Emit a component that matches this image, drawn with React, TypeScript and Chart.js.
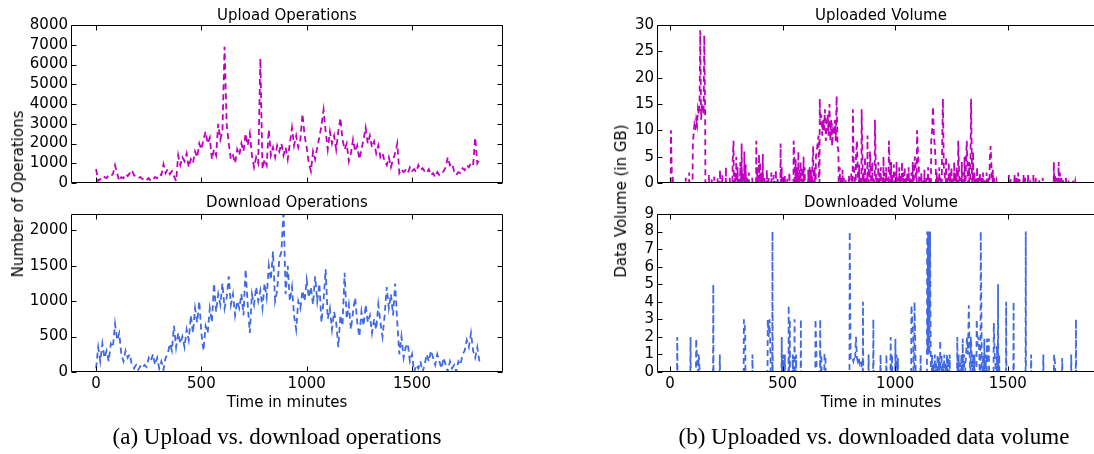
import React, { useEffect, useRef } from "react";
import { Chart, registerables } from "chart.js";

Chart.register(...registerables);

const PAGE_W = 1094;
const PAGE_H = 454;
const MAGENTA = "#bf00bf";
const BLUE = "#4169e1";
const FONT = "'DejaVu Sans', 'Bitstream Vera Sans', sans-serif";

// time axis (minutes, one sample every 10 minutes)
const minutes = Array.from({ length: 183 }, (_, i) => i * 10);
const xTicks = [0, 500, 1000, 1500];
const uploadOpsTicks = [0, 1000, 2000, 3000, 4000, 5000, 6000, 7000, 8000];
const downloadOpsTicks = [0, 500, 1000, 1500, 2000];
const upVolTicks = [0, 5, 10, 15, 20, 25, 30];
const downVolTicks = [0, 1, 2, 3, 4, 5, 6, 7, 8, 9];

// Upload operations per sample
const uploadOps = [
  700, 100, 200, 150, 300, 250, 400, 350, 450, 900,
  500, 100, 300, 250, 450, 350, 500, 650, 400, 300,
  250, 300, 200, 250, 150, 250, 100, 150, 300, 250,
  450, 400, 950, 500, 700, 450, 600, 350, 100, 1400,
  900, 1300, 1100, 1500, 800, 1200, 1000, 1600, 1300, 2000,
  1700, 2200, 2600, 2000, 2300, 1200, 1700, 1400, 3000, 2200,
  2600, 6900, 3000, 2000, 1200, 1400, 1000, 1700, 1400, 2000,
  1600, 2500, 1900, 2500, 1400, 800, 1300, 1000, 6300, 700,
  1200, 900, 2700, 1400, 1800, 1300, 1900, 1600, 2000, 1400,
  1800, 1200, 2000, 2800, 1900, 2400, 1800, 2200, 3500, 2400,
  1800, 1000, 600, 1600, 1200, 1800, 2300, 2900, 3700, 2600,
  1700, 2600, 2000, 2400, 1700, 2600, 3300, 2200, 1700, 2000,
  1100, 1500, 2200, 1600, 1900, 1200, 1700, 2200, 2800, 2000,
  2400, 1800, 2100, 1500, 1900, 1300, 1500, 1100, 900, 1300,
  800, 1200, 1500, 2000, 500, 700, 550, 650, 500, 800,
  600, 700, 550, 900, 650, 750, 600, 500, 700, 400,
  500, 300, 550, 400, 450, 600, 800, 1300, 900, 1000,
  600, 400, 550, 500, 750, 650, 900, 800, 1000, 900,
  2300, 1000, 1200,
];

// Download operations per sample
const downloadOps = [
  50, 350, 150, 400, 200, 300, 150, 400, 350, 680,
  450, 550, 250, 150, 300, 200, 250, 100, 50, 100,
  30, 80, 50, 100, 70, 200, 150, 250, 100, 200,
  50, 150, 30, 200, 250, 400, 300, 650, 350, 550,
  400, 500, 350, 600, 450, 800, 550, 900, 700, 1000,
  550, 300, 650, 550, 900, 700, 1250, 850, 1100, 950,
  1250, 900, 1050, 1350, 950, 1100, 800, 1000, 900, 1100,
  800, 1450, 950, 550, 1100, 950, 1200, 1000, 1150, 900,
  1250, 1050, 1500, 1300, 1700, 1000, 1150, 1600, 1700, 2300,
  1100, 1500, 1000, 1200, 800, 600, 1000, 900, 1150, 1000,
  1300, 1050, 1200, 950, 1350, 1000, 1250, 700, 1000, 1450,
  750, 900, 600, 850, 700, 350, 800, 650, 1400, 750,
  950, 600, 850, 1050, 700, 500, 850, 650, 950, 700,
  800, 550, 750, 600, 950, 700, 500, 800, 1200, 900,
  1100, 800, 1250, 700, 250, 500, 200, 350, 400, 150,
  250, 0, 100, 50, 150, 0, 100, 250, 150, 300,
  200, 100, 250, 150, 50, 200, 100, 0, 150, 50,
  100, 0, 150, 100, 250, 300, 450, 350, 550, 300,
  200, 350, 150,
];

// Uploaded volume (GB): minutes with non-zero volume and their values
const upVolMinutes = [
  4, 8, 12, 70, 85,
  101, 104, 108, 112, 116, 120, 124, 128, 131, 134, 138, 142, 146, 149, 152, 156,
  173, 185, 196, 212, 222, 232, 248, 265,
  278, 282, 288, 294, 300, 306, 312, 318, 324, 330, 336, 342, 350, 365,
  383, 388, 395, 400, 405, 412, 420, 430, 438, 450, 460, 470, 478,
  491, 496, 502, 510, 520, 530,
  549, 553, 558, 565, 570, 575, 580, 587, 593, 598,
  614, 620, 626, 632, 636, 642, 648, 652, 656, 660,
  665, 668, 672, 676, 680, 684, 688, 692, 696, 700,
  704, 708, 712, 716, 720, 724, 728, 732, 736, 740,
  744, 748, 754, 759, 766, 772, 780,
  795, 805, 812, 816, 820, 826, 830, 834, 840, 846,
  851, 855, 860, 866, 872, 877, 882, 888, 892, 898,
  904, 910, 914, 920, 925, 930, 936, 942, 948, 954,
  960, 966, 972, 976, 982, 988, 994,
  1000, 1006, 1012, 1018, 1024, 1030, 1036, 1042, 1048, 1054,
  1060, 1066, 1072, 1078, 1084, 1088, 1092, 1097, 1101, 1105,
  1110, 1116, 1122, 1130, 1138, 1146, 1152,
  1160, 1164, 1168, 1172, 1176, 1180, 1185, 1190, 1196, 1202,
  1208, 1212, 1216, 1220, 1226, 1232, 1238, 1244, 1250, 1256,
  1262, 1268, 1274, 1280, 1284, 1290, 1296, 1302, 1308, 1314,
  1318, 1322, 1328, 1334, 1337, 1341, 1346, 1352, 1358, 1364,
  1370, 1376, 1382, 1390, 1398, 1406, 1414, 1420, 1424, 1428,
  1434, 1440, 1450,
  1505, 1512, 1520, 1530, 1538, 1546, 1552, 1560, 1570, 1578, 1590, 1600, 1614, 1624, 1640, 1655,
  1705, 1710, 1718, 1726, 1732, 1738, 1746, 1758, 1770, 1790, 1800,
];
const upVolGB = [
  10, 1.5, 1, 1, 2,
  7, 9, 11, 10, 12, 11, 14, 13, 15, 29, 12, 15, 14, 13, 28, 12,
  1.5, 0.8, 1.2, 1, 2.5, 1.5, 3, 1,
  4, 8, 2, 5, 3, 1, 4, 7.5, 2, 6, 3.5, 1, 2, 1,
  8, 3, 5.5, 4, 2, 5.5, 1, 2.5, 1, 2, 1.5, 2.5, 1,
  7.5, 3, 1, 1.5, 0.8, 2,
  8, 3.5, 4.5, 3, 6, 2.5, 4, 3, 5, 3,
  2.5, 3, 2.5, 3, 7, 3, 5, 6, 8, 9,
  16, 11, 13, 9, 12, 10, 14, 8, 11, 13,
  9, 15, 8, 12, 7, 10, 9, 12, 8, 16.5,
  7, 6, 3, 1, 2.5, 1, 0.5,
  1.5, 2, 14, 3, 1, 5, 8, 2, 3.5, 1,
  14, 4, 2, 5, 1, 9, 3, 6, 2, 4,
  1, 12, 3, 1, 4, 2, 3, 1, 5, 2,
  3, 1, 8, 3, 4, 1.5, 3.5,
  2, 4, 1, 3, 1.5, 4, 2, 3, 1, 2,
  3, 1, 2, 4, 3, 5, 2, 10, 6, 3,
  1, 2, 0.5, 2.5, 1, 3, 1,
  8, 10, 14.5, 9, 7, 4, 2, 1, 3, 1,
  5, 16, 3, 2, 5, 1, 4, 2, 3, 1,
  4, 2, 3, 8, 2, 1, 4, 2, 5, 3,
  8, 2, 4, 1, 16, 2, 6, 2, 1, 3,
  1, 2, 1, 2, 0.8, 2, 1, 4.5, 7, 3,
  2.5, 1, 0.3,
  1.5, 1, 0.5, 1.5, 1, 2, 1, 0.5, 1.5, 1, 1.5, 0.5, 1.5, 1, 0.5, 1,
  4, 1.5, 1, 4, 2, 1, 0.5, 1, 0.5, 0.5, 0.3,
];

// Downloaded volume (GB): minutes with non-zero volume and their values
const downVolMinutes = [
  32, 91, 116, 119, 122, 127, 130,
  192, 221, 328, 331, 334, 366,
  434, 438, 442, 446, 455,
  496, 502, 510, 527, 532, 545, 553, 560, 581,
  646, 650, 667, 672, 686, 690,
  798, 802, 806, 810, 814, 818, 822, 826, 830, 834, 838, 842, 846, 850, 857,
  882, 903, 935, 961, 980, 986, 1001, 1006, 1012,
  1072, 1076, 1080, 1086, 1090, 1113,
  1142, 1144, 1146, 1148, 1150, 1152, 1155, 1158,
  1164, 1170, 1176, 1182, 1188, 1194, 1200, 1206, 1212, 1218, 1224, 1230, 1236, 1242,
  1276, 1282, 1288, 1294, 1300, 1306, 1312, 1315, 1319, 1323, 1327, 1331, 1336, 1340, 1346, 1352,
  1362, 1366, 1370, 1374, 1380, 1384, 1390, 1396, 1402, 1408, 1412, 1416,
  1438, 1442, 1446, 1452, 1457, 1462,
  1493, 1526, 1580, 1604, 1658, 1706, 1710, 1742, 1782, 1803,
];
const downVolGB = [
  2, 2, 1.9, 1, 0.5, 1, 0.5,
  5, 1, 3, 2.8, 2, 1,
  3, 2, 3, 1, 8,
  2, 1, 1, 3.8, 3, 1, 3, 1, 3,
  3, 1, 3, 1, 1, 1,
  8, 0.8, 0.7, 0.8, 0.6, 0.8, 0.7, 2, 0.8, 0.6, 0.8, 0.5, 0.7, 0.6, 4,
  1, 3, 1, 1, 2, 1, 1.9, 1, 0.8,
  3.8, 3, 2, 4, 1, 1,
  8, 1, 8, 1, 8, 1, 8, 1,
  1, 0.5, 1, 0.5, 1, 0.8, 1.8, 1, 0.5, 1, 0.5, 1, 0.8, 1,
  2, 1, 0.5, 1, 1.9, 1, 0.5, 1, 2, 1, 3.8, 1, 2, 1, 1, 1,
  3, 1.5, 2, 1, 8, 2, 1, 1.9, 1, 1.9, 0.5, 1.9,
  2.8, 1, 0.3, 1.5, 5, 1,
  4, 4, 8, 1, 1, 1, 0.5, 0.8, 1, 3,
];

type Pt = { x: number; y: number };

function sampled(values: number[]): Pt[] {
  const n = Math.min(values.length, minutes.length);
  const out: Pt[] = [];
  for (let i = 0; i < n; i++) out.push({ x: minutes[i], y: values[i] });
  return out;
}

// Events are separated by zero-volume minutes when they are not adjacent samples.
function events(ms: number[], vs: number[], end: number): Pt[] {
  const n = Math.min(ms.length, vs.length);
  const out: Pt[] = [{ x: 0, y: 0 }];
  for (let i = 0; i < n; i++) {
    const m = ms[i];
    const prev = i > 0 ? ms[i - 1] : -1e9;
    const next = i < n - 1 ? ms[i + 1] : 1e9;
    if (m - prev >= 5 && m - 1 > 0) out.push({ x: m - 1, y: 0 });
    out.push({ x: m, y: vs[i] });
    if (next - m >= 5) out.push({ x: m + 1, y: 0 });
  }
  out.push({ x: end, y: 0 });
  return out;
}

const framePlugin = {
  id: "mplFrame",
  afterDraw(chart: any) {
    const { ctx, chartArea: a, scales } = chart;
    const L = Math.round(a.left) + 0.5;
    const R = Math.round(a.right) - 0.5;
    const T = Math.round(a.top) + 0.5;
    const B = Math.round(a.bottom) - 0.5;
    const len = 5;
    ctx.save();
    ctx.strokeStyle = "#000";
    ctx.lineWidth = 1;
    ctx.beginPath();
    ctx.rect(L, T, R - L, B - T);
    for (const t of scales.x.ticks) {
      const p = Math.round(scales.x.getPixelForValue(t.value)) + 0.5;
      ctx.moveTo(p, B);
      ctx.lineTo(p, B - len);
      ctx.moveTo(p, T);
      ctx.lineTo(p, T + len);
    }
    for (const t of scales.y.ticks) {
      const p = Math.round(scales.y.getPixelForValue(t.value)) + 0.5;
      ctx.moveTo(L, p);
      ctx.lineTo(L + len, p);
      ctx.moveTo(R, p);
      ctx.lineTo(R - len, p);
    }
    ctx.stroke();
    ctx.restore();
  },
};

type PanelCfg = {
  title: string;
  data: Pt[];
  color: string;
  xMin: number;
  xMax: number;
  yMax: number;
  yTicks: number[];
  yWidth: number;
  pad: { left: number; right: number; top: number; bottom: number };
  titleBottom: number;
  xLabels: boolean;
  xHeight: number;
  canvasWidth: number;
};

function makeChart(canvas: HTMLCanvasElement, cfg: PanelCfg) {
  const tickFont = { family: FONT, size: 15 };
  return new Chart(canvas, {
    type: "line",
    data: {
      datasets: [
        {
          data: cfg.data as any,
          borderColor: cfg.color,
          borderWidth: 1.8,
          borderDash: [6, 4],
          pointRadius: 0,
          fill: false,
          tension: 0,
        },
      ],
    },
    options: {
      responsive: false,
      animation: false,
      devicePixelRatio: 1,
      events: [],
      layout: { padding: cfg.pad },
      plugins: {
        legend: { display: false },
        tooltip: { enabled: false },
        title: {
          display: true,
          text: cfg.title,
          fullSize: false,
          color: "#000",
          font: { family: FONT, size: 15, weight: "normal" as any },
          padding: { top: 7, bottom: cfg.titleBottom },
        },
      },
      scales: {
        x: {
          type: "linear",
          min: cfg.xMin,
          max: cfg.xMax,
          grid: { display: false, drawTicks: false },
          border: { display: false },
          ticks: {
            display: cfg.xLabels,
            color: "#000",
            font: tickFont,
            padding: 3,
            maxRotation: 0,
            autoSkip: false,
            callback: (v: any) => String(v),
          },
          afterBuildTicks: (s: any) => {
            s.ticks = xTicks.map((v) => ({ value: v }));
          },
          afterFit: (s: any) => {
            s.height = cfg.xHeight;
          },
          title: {
            display: cfg.xLabels,
            text: "Time in minutes",
            color: "#000",
            font: tickFont,
            padding: { top: 0, bottom: 0 },
          },
        },
        y: {
          type: "linear",
          min: 0,
          max: cfg.yMax,
          grid: { display: false, drawTicks: false },
          border: { display: false },
          ticks: {
            color: "#000",
            font: tickFont,
            padding: 3,
            autoSkip: false,
            callback: (v: any) => String(v),
          },
          afterBuildTicks: (s: any) => {
            s.ticks = cfg.yTicks.map((v) => ({ value: v }));
          },
          afterFit: (s: any) => {
            s.width = cfg.yWidth;
          },
        },
      },
    },
    plugins: [framePlugin],
  });
}

function Panel({ cfg }: { cfg: PanelCfg }) {
  const ref = useRef<HTMLCanvasElement | null>(null);
  useEffect(() => {
    if (!ref.current) return;
    const chart = makeChart(ref.current, cfg);
    return () => chart.destroy();
  }, []);
  return (
    <canvas
      ref={ref}
      width={cfg.canvasWidth}
      height={PAGE_H}
      style={{ position: "absolute", left: 0, top: 0, width: cfg.canvasWidth, height: PAGE_H }}
    />
  );
}

const LEFT_W = PAGE_W;
const RIGHT_W = 1120;

const panels: PanelCfg[] = [
  {
    title: "Upload Operations",
    data: sampled(uploadOps),
    color: MAGENTA,
    xMin: -119,
    xMax: 1932,
    yMax: 8000,
    yTicks: uploadOpsTicks,
    yWidth: 60,
    pad: { left: 11, right: LEFT_W - 503, top: 0, bottom: 261 },
    titleBottom: 0,
    xLabels: false,
    xHeight: 10,
    canvasWidth: LEFT_W,
  },
  {
    title: "Download Operations",
    data: sampled(downloadOps),
    color: BLUE,
    xMin: -119,
    xMax: 1932,
    yMax: 2230,
    yTicks: downloadOpsTicks,
    yWidth: 60,
    pad: { left: 11, right: LEFT_W - 503, top: 187, bottom: 42 },
    titleBottom: 2,
    xLabels: true,
    xHeight: 40,
    canvasWidth: LEFT_W,
  },
  {
    title: "Uploaded Volume",
    data: events(upVolMinutes, upVolGB, 1810),
    color: MAGENTA,
    xMin: -58,
    xMax: 1932,
    yMax: 30,
    yTicks: upVolTicks,
    yWidth: 40,
    pad: { left: 617, right: RIGHT_W - 1105, top: 0, bottom: 261 },
    titleBottom: 0,
    xLabels: false,
    xHeight: 10,
    canvasWidth: RIGHT_W,
  },
  {
    title: "Downloaded Volume",
    data: events(downVolMinutes, downVolGB, 1810),
    color: BLUE,
    xMin: -58,
    xMax: 1932,
    yMax: 9,
    yTicks: downVolTicks,
    yWidth: 40,
    pad: { left: 617, right: RIGHT_W - 1105, top: 187, bottom: 42 },
    titleBottom: 2,
    xLabels: true,
    xHeight: 40,
    canvasWidth: RIGHT_W,
  },
];

const yLabelStyle = (cx: number, cy: number): React.CSSProperties => ({
  position: "absolute",
  left: cx,
  top: cy,
  transform: "translate(-50%, -50%) rotate(-90deg)",
  fontFamily: FONT,
  fontSize: 15,
  color: "#000",
  whiteSpace: "nowrap",
  lineHeight: "18px",
});

const captionStyle = (cx: number): React.CSSProperties => ({
  position: "absolute",
  left: cx,
  top: 437,
  transform: "translate(-50%, -50%)",
  fontFamily: "'Liberation Serif', 'Times New Roman', serif",
  fontSize: 23,
  color: "#000",
  whiteSpace: "nowrap",
  lineHeight: "26px",
});

export default function App() {
  return (
    <div
      style={{
        position: "absolute",
        left: 0,
        top: 0,
        width: PAGE_W,
        height: PAGE_H,
        overflow: "hidden",
        background: "#fff",
      }}
    >
      {panels.map((p) => (
        <Panel key={p.title} cfg={p} />
      ))}
      <div style={yLabelStyle(18, 193.5)}>Number of Operations</div>
      <div style={yLabelStyle(621, 201)}>Data Volume (in GB)</div>
      <div style={captionStyle(277)}>(a) Upload vs. download operations</div>
      <div style={captionStyle(874)}>(b) Uploaded vs. downloaded data volume</div>
    </div>
  );
}
